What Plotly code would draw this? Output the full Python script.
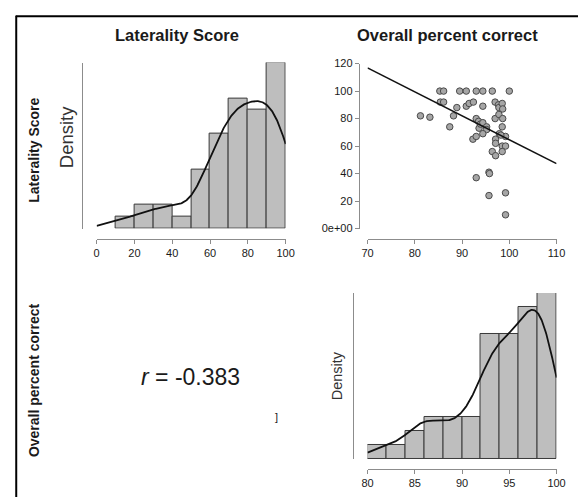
import numpy as np
import plotly.graph_objects as go

# ---- data ----
overall = [81.2, 83.2, 85.3, 85.4, 86.1, 86.1, 87.4, 88.2, 88.9, 89.5, 90.9, 90.9, 91.5,
           92.4, 93.0, 93.0, 93.5, 92.3, 93.0, 93.0, 93.6, 93.9,
           94.4, 94.4, 94.4, 95.2, 95.2, 94.4, 95.7, 95.8, 95.7,
           96.4, 96.4, 97.1, 97.0, 97.7, 97.8, 97.0, 97.8, 97.1, 97.1, 97.9,
           100.0, 98.5, 98.6, 98.6, 98.5, 99.2, 98.5, 99.2, 98.5, 99.2, 99.2, 98.2]
laterality = [82, 81, 100, 92, 100, 92, 74, 82, 88, 100, 100, 89, 91,
              92, 100, 80, 78, 65, 67, 37, 73, 76,
              100, 89, 77, 74, 72, 69, 41, 40, 24,
              100, 56, 53, 92, 90, 88, 80, 83, 65, 62, 69,
              100, 91, 87, 80, 74, 67, 60, 60, 56, 26, 10, 68]
lat_breaks = [10, 20, 30, 40, 50, 60, 70, 80, 90, 100]
overall_breaks = [80, 82, 84, 86, 88, 90, 92, 94, 96, 98, 100]
lat_ticks = [0, 20, 40, 60, 80, 100]
scat_xticks = [70, 80, 90, 100, 110]
scat_yticks = [0, 20, 40, 60, 80, 100, 120]
scat_yticktext = ["0e+00", "20", "40", "60", "80", "100", "120"]
overall_ticks = [80, 85, 90, 95, 100]
r_text = "<i>r</i> = -0.383"

W, H = 587, 503
FONT = "Liberation Sans, Arial, sans-serif"


def px(x):
    return x / W


def py(y):
    return 1 - y / H


def hist_density(vals, edges):
    vals = np.asarray(vals, float)
    edges = np.asarray(edges, float)
    idx = np.searchsorted(edges, vals, side="left") - 1
    idx = np.clip(idx, 0, len(edges) - 2)
    counts = np.bincount(idx, minlength=len(edges) - 1)
    widths = np.diff(edges)
    dens = counts / (len(vals) * widths)
    centers = (edges[:-1] + edges[1:]) / 2
    return centers, dens, widths


def kde(vals, grid):
    v = np.asarray(vals, float)
    n = len(v)
    q75, q25 = np.percentile(v, [75, 25])
    bw = 0.9 * min(v.std(ddof=1), (q75 - q25) / 1.34) * n ** -0.2
    g = np.asarray(grid, float)[:, None]
    return np.exp(-0.5 * ((g - v[None, :]) / bw) ** 2).sum(axis=1) / (n * bw * np.sqrt(2 * np.pi))


fig = go.Figure()

BAR_FILL = "#bebebe"
BAR_LINE = "#3a3a3a"
AX_COL = "#8c8c8c"
TXT = "#1a1a1a"

# --- top-left histogram (laterality) ---
c1, d1, w1 = hist_density(laterality, lat_breaks)
g1 = np.linspace(0, 100, 301)
k1 = kde(laterality, g1)
fig.add_trace(go.Bar(x=c1, y=d1, width=w1, marker=dict(color=BAR_FILL, line=dict(color=BAR_LINE, width=1)),
                     xaxis="x", yaxis="y", hoverinfo="skip"))
fig.add_trace(go.Scatter(x=g1, y=k1, mode="lines", line=dict(color="#111", width=1.8),
                         xaxis="x", yaxis="y", hoverinfo="skip"))

# --- top-right scatter ---
xs = np.asarray(overall, float)
ys = np.asarray(laterality, float)
slope, intercept = np.polyfit(xs, ys, 1)
lx = np.array([70, 110])
fig.add_trace(go.Scatter(x=overall, y=laterality, mode="markers",
                         marker=dict(size=6.5, color="#a6a6a6", line=dict(color="#4a4a4a", width=1)),
                         xaxis="x2", yaxis="y2", hoverinfo="skip"))
fig.add_trace(go.Scatter(x=lx, y=intercept + slope * lx, mode="lines", line=dict(color="#111", width=1.6),
                         xaxis="x2", yaxis="y2", hoverinfo="skip"))

# --- bottom-right histogram (overall) ---
c3, d3, w3 = hist_density(overall, overall_breaks)
g3 = np.linspace(80, 100, 301)
k3 = kde(overall, g3)
fig.add_trace(go.Bar(x=c3, y=d3, width=w3, marker=dict(color=BAR_FILL, line=dict(color=BAR_LINE, width=1)),
                     xaxis="x3", yaxis="y3", hoverinfo="skip"))
fig.add_trace(go.Scatter(x=g3, y=k3, mode="lines", line=dict(color="#111", width=1.8),
                         xaxis="x3", yaxis="y3", hoverinfo="skip"))

tickfont = dict(family=FONT, size=11, color=TXT)


def xax(domain, rng, pos_y, tickvals, ticktext=None):
    return dict(domain=[px(domain[0]), px(domain[1])], range=rng, anchor="free", position=py(pos_y),
                showline=True, linecolor=AX_COL, linewidth=1, ticks="outside", ticklen=4,
                tickcolor=AX_COL, tickwidth=1, tickvals=tickvals, ticktext=ticktext,
                showgrid=False, zeroline=False, tickfont=tickfont, fixedrange=True)


def yax(domain, rng, pos_x, tickvals=None, ticktext=None, labels=False):
    d = dict(domain=[py(domain[1]), py(domain[0])], range=rng, anchor="free", position=px(pos_x),
             showline=True, linecolor=AX_COL, linewidth=1, showgrid=False, zeroline=False,
             fixedrange=True, tickfont=tickfont)
    if labels:
        d.update(ticks="outside", ticklen=4, tickcolor=AX_COL, tickwidth=1,
                 tickvals=tickvals, ticktext=ticktext)
    else:
        d.update(ticks="", showticklabels=False)
    return d


top1 = max(d1.max(), k1.max())
top3 = max(d3.max(), k3.max())

fig.update_layout(
    width=W, height=H, autosize=False,
    margin=dict(l=0, r=0, t=0, b=0),
    paper_bgcolor="white", plot_bgcolor="white",
    showlegend=False, bargap=0,
    xaxis=xax((93, 287), [0, 100], 239, lat_ticks),
    yaxis=yax((58, 228), [0, top1], 78),
    xaxis2=xax((371, 565), [70, 110], 239, scat_xticks),
    yaxis2=yax((59, 228), [0, 120], 362, scat_yticks, scat_yticktext, labels=True),
    xaxis3=xax((371, 565), [80, 100], 474, overall_ticks),
    yaxis3=yax((294, 464), [0, top3], 356),
)

shapes = [
    dict(type="line", xref="paper", yref="paper", x0=px(10), x1=1, y0=py(10.5), y1=py(10.5),
         line=dict(color="black", width=2)),
    dict(type="line", xref="paper", yref="paper", x0=px(10.5), x1=px(10.5), y0=py(10), y1=0,
         line=dict(color="black", width=2)),
]
fig.update_layout(shapes=shapes)


def ann(text, x, y, size, bold=False, angle=0, color=TXT):
    t = f"<b>{text}</b>" if bold else text
    fig.add_annotation(text=t, x=px(x), y=py(y), xref="paper", yref="paper", showarrow=False,
                       xanchor="center", yanchor="middle", textangle=angle,
                       font=dict(family=FONT, size=size, color=color))


ann("Laterality Score", 175, 30, 16.5, bold=True)
ann("Overall percent correct", 453, 30, 16.5, bold=True)
ann("Laterality Score", 29, 148, 14, bold=True, angle=-90)
ann("Overall percent correct", 29, 383, 14, bold=True, angle=-90)
ann("Density", 62, 134, 18.5, angle=-90, color="#333")
ann("Density", 340, 379, 14.5, angle=-90, color="#333")
ann(r_text, 189, 380, 23)
ann("]", 278, 421, 11)

fig.write_html("out.html", config={"displayModeBar": False},
               post_script="document.body.style.margin='0';document.body.style.padding='0';"
                           "document.body.style.overflow='hidden';"
                           "document.documentElement.style.overflow='hidden';")
